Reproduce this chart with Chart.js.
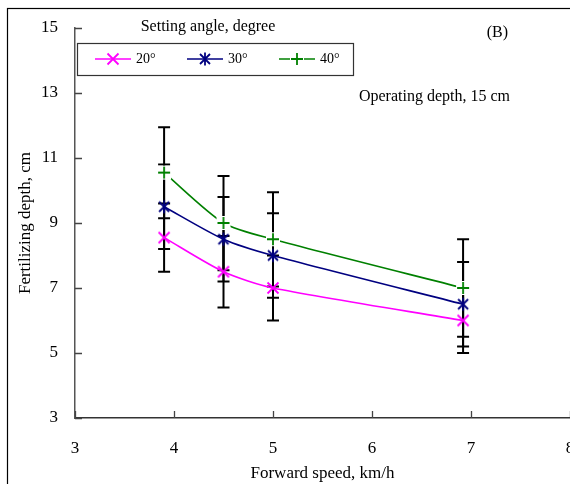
<!DOCTYPE html>
<html>
<head>
<meta charset="utf-8">
<script src="https://cdn.jsdelivr.net/npm/chart.js@4.4.1/dist/chart.umd.min.js"></script>
<style>
  html, body { margin: 0; padding: 0; background: #fff; overflow: hidden; }
  #wrap { position: absolute; left: 0; top: 0; width: 620px; height: 484px; }
</style>
</head>
<body>
<div id="wrap"><canvas id="depthChart" width="620" height="484"></canvas></div>
<script>
// Forward speed (km/h) vs fertilizing depth (cm), one series per setting angle
const speeds = [3.9, 4.5, 5.0, 6.92];
const depth20 = [8.55, 7.5, 7.0, 6.0];
const depth30 = [9.5, 8.5, 8.0, 6.5];
const depth40 = [10.55, 9.0, 8.5, 7.0];
// error bar half-lengths
const err20 = [1.05, 1.1, 1.0, 1.0];
const err30 = [1.3, 1.3, 1.3, 1.3];
const err40 = [1.4, 1.45, 1.45, 1.5];
const angleLabels = ['20°', '30°', '40°'];
const xTicks = [3, 4, 5, 6, 7, 8];
const yTicks = [3, 5, 7, 9, 11, 13, 15];

const serif = "'Liberation Serif', 'Times New Roman', serif";
const colors = ['#ff00ff', '#000080', '#008000'];

// marker glyphs drawn on small canvases, used as point styles and in the legend
function makeMarker(kind, color) {
    const c = document.createElement('canvas');
    c.width = 16; c.height = 16;
    const g = c.getContext('2d');
    g.strokeStyle = color;
    g.lineWidth = 1.8;
    g.beginPath();
    if (kind === 'x') {
        g.moveTo(2.5, 2.5); g.lineTo(13.5, 13.5);
        g.moveTo(13.5, 2.5); g.lineTo(2.5, 13.5);
    } else if (kind === 'star') {
        g.moveTo(3, 3); g.lineTo(13, 13);
        g.moveTo(13, 3); g.lineTo(3, 13);
        g.moveTo(8, 1.5); g.lineTo(8, 14.5);
    } else {
        g.fillStyle = '#fff';
        g.fillRect(1, 1, 14, 14);
        g.moveTo(8, 2); g.lineTo(8, 14);
        g.moveTo(2, 8); g.lineTo(14, 8);
    }
    g.stroke();
    return c;
}
const markers = [makeMarker('x', colors[0]), makeMarker('star', colors[1]), makeMarker('plus', colors[2])];

function toPoints(ys) {
    return speeds.map((x, i) => ({ x: x, y: ys[i] }));
}

const seriesValues = [depth20, depth30, depth40];
const seriesErrors = [err20, err30, err40];

const datasets = seriesValues.map((vals, i) => ({
    label: angleLabels[i],
    data: toPoints(vals),
    errors: seriesErrors[i],
    borderColor: colors[i],
    backgroundColor: colors[i],
    borderWidth: 1.6,
    tension: 0.25,
    pointStyle: markers[i],
    pointRadius: 7,
    pointHoverRadius: 7
}));

// outer frame, error bars, inward tick marks, legend and notes
const decorPlugin = {
    id: 'decor',
    beforeDraw(chart) {
        const ctx = chart.ctx;
        ctx.save();
        ctx.fillStyle = '#fff';
        ctx.fillRect(0, 0, chart.width, chart.height);
        ctx.strokeStyle = '#000';
        ctx.lineWidth = 1.2;
        ctx.strokeRect(7.5, 8.5, 700, 600);
        ctx.restore();
    },
    beforeDatasetsDraw(chart) {
        const ctx = chart.ctx;
        const xs = chart.scales.x, ys = chart.scales.y;
        ctx.save();
        ctx.strokeStyle = '#000';
        ctx.lineWidth = 2;
        chart.data.datasets.forEach(ds => {
            ds.data.forEach((p, i) => {
                const px = xs.getPixelForValue(p.x);
                const top = ys.getPixelForValue(p.y + ds.errors[i]);
                const bot = ys.getPixelForValue(p.y - ds.errors[i]);
                ctx.beginPath();
                ctx.moveTo(px, top); ctx.lineTo(px, bot);
                ctx.moveTo(px - 6, top); ctx.lineTo(px + 6, top);
                ctx.moveTo(px - 6, bot); ctx.lineTo(px + 6, bot);
                ctx.stroke();
            });
        });
        ctx.restore();
    },
    afterDraw(chart) {
        const ctx = chart.ctx;
        const xs = chart.scales.x, ys = chart.scales.y;
        const area = chart.chartArea;
        ctx.save();
        // inward ticks
        ctx.strokeStyle = '#444';
        ctx.lineWidth = 1.3;
        ctx.beginPath();
        yTicks.forEach(v => {
            const py = Math.round(ys.getPixelForValue(v)) + 0.5;
            ctx.moveTo(area.left, py); ctx.lineTo(area.left + 7, py);
        });
        xTicks.forEach(v => {
            const px = Math.round(xs.getPixelForValue(v)) + 0.5;
            ctx.moveTo(px, area.bottom); ctx.lineTo(px, area.bottom - 7);
        });
        ctx.stroke();

        // legend
        ctx.fillStyle = '#000';
        ctx.font = '16px ' + serif;
        ctx.textAlign = 'center';
        ctx.textBaseline = 'middle';
        ctx.fillText('Setting angle, degree', 208, 27);
        ctx.strokeStyle = '#333';
        ctx.lineWidth = 1.2;
        ctx.strokeRect(77.5, 43.5, 276, 32);
        const entryX = [95, 187, 279];
        ctx.font = '14px ' + serif;
        ctx.textAlign = 'left';
        chart.data.datasets.forEach((ds, i) => {
            const x0 = entryX[i], y0 = 59;
            ctx.strokeStyle = ds.borderColor;
            ctx.lineWidth = 1.6;
            ctx.beginPath();
            ctx.moveTo(x0, y0); ctx.lineTo(x0 + 36, y0);
            ctx.stroke();
            ctx.drawImage(markers[i], x0 + 18 - 8, y0 - 8);
            ctx.fillStyle = '#000';
            ctx.fillText(ds.label, x0 + 41, y0);
        });

        // notes
        ctx.font = '16px ' + serif;
        ctx.textAlign = 'right';
        ctx.fillText('(B)', 508, 33);
        ctx.fillText('Operating depth, 15 cm', 510, 97);
        ctx.restore();
    }
};

const ctx = document.getElementById('depthChart').getContext('2d');
new Chart(ctx, {
    type: 'line',
    data: { datasets },
    plugins: [decorPlugin],
    options: {
        responsive: false,
        animation: false,
        devicePixelRatio: 1,
        layout: { padding: { left: 0, top: 28, right: 50, bottom: 0 } },
        plugins: {
            legend: { display: false },
            tooltip: { enabled: false }
        },
        scales: {
            x: {
                type: 'linear',
                min: 3,
                max: 8,
                afterBuildTicks: s => { s.ticks = xTicks.map(v => ({ value: v })); },
                afterFit: s => { s.height = 66; },
                grid: { display: true, drawOnChartArea: false, drawTicks: false },
                border: { display: true, color: '#333', width: 1.5 },
                ticks: { color: '#000', padding: 20, maxRotation: 0, font: { family: serif, size: 17 } },
                title: {
                    display: true,
                    text: 'Forward speed, km/h',
                    color: '#000',
                    font: { family: serif, size: 17 },
                    padding: { top: 0, bottom: 0 }
                }
            },
            y: {
                min: 3,
                max: 15,
                afterBuildTicks: s => { s.ticks = yTicks.map(v => ({ value: v })); },
                afterFit: s => { s.width = 75; },
                grid: { display: true, drawOnChartArea: false, drawTicks: false },
                border: { display: true, color: '#555', width: 1.5 },
                ticks: { color: '#000', padding: 17, font: { family: serif, size: 17 } },
                title: {
                    display: true,
                    text: 'Fertilizing depth, cm',
                    color: '#000',
                    font: { family: serif, size: 17 },
                    padding: { top: 15, bottom: 0 }
                }
            }
        }
    }
});
</script>
</body>
</html>
